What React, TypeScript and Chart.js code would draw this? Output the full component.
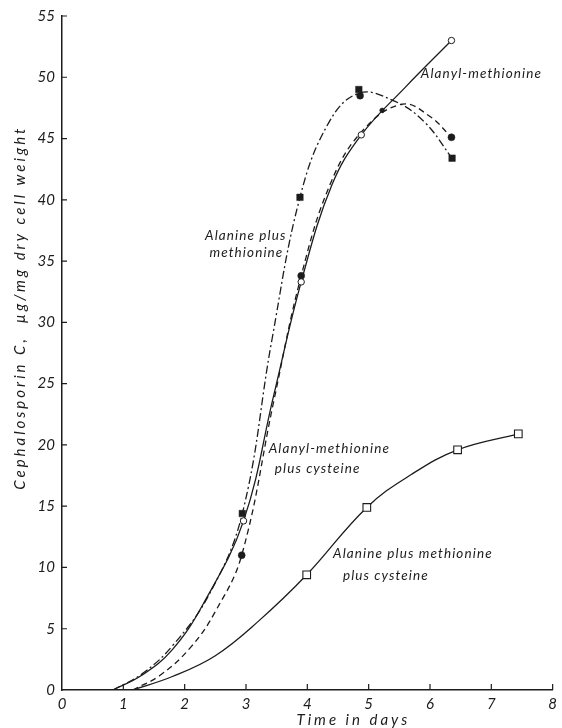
import React, { useEffect, useRef } from "react";
import { Chart, registerables } from "chart.js";

Chart.register(...registerables);

// ---- measured points (days, µg/mg dry cell weight) ----
const alanylMetDays = [2.96, 3.9, 4.88, 6.35];
const alanylMetValues = [13.8, 33.3, 45.3, 53.0];

const alaPlusMetDays = [2.94, 3.88, 4.84, 6.36];
const alaPlusMetValues = [14.4, 40.2, 49.0, 43.4];

const alanylMetCysDays = [2.93, 3.9, 4.86, 5.22, 6.35];
const alanylMetCysValues = [11.0, 33.8, 48.5, 47.3, 45.1];

const alaMetCysDays = [3.99, 4.97, 6.45, 7.44];
const alaMetCysValues = [9.4, 14.9, 19.6, 20.9];

// ---- hand-drawn fitted curves ----
const alanylMetCurveDays = [0.83, 1.3, 1.8, 2.3, 2.96, 3.45, 3.9, 4.4, 4.88, 5.6, 6.35];
const alanylMetCurveValues = [0, 1.2, 3.3, 7.0, 13.8, 24.0, 33.3, 41.2, 45.3, 49.2, 53.0];

const alaPlusMetCurveDays = [0.83, 1.3, 1.8, 2.4, 2.94, 3.42, 3.88, 4.35, 4.84, 5.4, 5.9, 6.36];
const alaPlusMetCurveValues = [0, 1.3, 3.6, 7.8, 14.4, 28.5, 40.2, 46.3, 48.7, 48.1, 46.4, 43.4];

const alanylMetCysCurveDays = [1.15, 1.6, 2.1, 2.5, 2.93, 3.45, 3.9, 4.4, 4.93, 5.55, 6.0, 6.35];
const alanylMetCysCurveValues = [0, 1.2, 3.5, 6.4, 11.0, 23.5, 33.8, 41.6, 45.8, 47.8, 46.8, 45.1];

const alaMetCysCurveDays = [1.15, 1.8, 2.5, 3.2, 3.99, 4.97, 5.7, 6.45, 7.44];
const alaMetCysCurveValues = [0, 1.1, 2.8, 5.6, 9.4, 14.9, 17.6, 19.6, 20.9];

// ---- axes ----
const xTickValues = [0, 1, 2, 3, 4, 5, 6, 7, 8];
const yTickValues = [0, 5, 10, 15, 20, 25, 30, 35, 40, 45, 50, 55];
const xTitle = "Time in days";
const yTitle = "Cephalosporin C,  \u00b5g/mg dry cell weight";

// ---- curve labels (text lines) ----
const labelLines = [
  "Alanyl-methionine",
  "Alanine plus",
  "methionine",
  "Alanyl-methionine",
  "plus cysteine",
  "Alanine plus methionine",
  "plus cysteine",
];

const pts = (xs: number[], ys: number[]) => xs.map((x, i) => ({ x, y: ys[i] }));

export default function App() {
  const ref = useRef<HTMLCanvasElement>(null);

  useEffect(() => {
    if (!ref.current) return;
    const ink = "#1c1c1c";
    const fontFamily = "Lato, 'DejaVu Sans', sans-serif";

    // anchors for label lines in data coordinates
    const labelAnchors = [
      { x: 5.85, y: 50.3, align: "left" },
      { x: 3.66, y: 37.1, align: "right" },
      { x: 3.61, y: 35.7, align: "right" },
      { x: 3.37, y: 19.7, align: "left" },
      { x: 3.47, y: 18.1, align: "left" },
      { x: 4.42, y: 11.1, align: "left" },
      { x: 4.58, y: 9.37, align: "left" },
    ];

    const decor = {
      id: "decor",
      afterDraw(chart: any) {
        const ctx = chart.ctx as CanvasRenderingContext2D;
        const xs = chart.scales.x;
        const ys = chart.scales.y;
        const area = chart.chartArea;
        ctx.save();
        // inward ticks
        ctx.strokeStyle = ink;
        ctx.lineWidth = 1.2;
        ctx.beginPath();
        xTickValues.forEach((v) => {
          if (v === 0) return;
          const px = xs.getPixelForValue(v);
          ctx.moveTo(px, area.bottom);
          ctx.lineTo(px, area.bottom - 6);
        });
        yTickValues.forEach((v) => {
          if (v === 0) return;
          const py = ys.getPixelForValue(v);
          ctx.moveTo(area.left, py);
          ctx.lineTo(area.left + 5, py);
        });
        ctx.stroke();

        // curve labels
        ctx.fillStyle = ink;
        ctx.textBaseline = "middle";
        ctx.font = `italic 13.5px ${fontFamily}`;
        (ctx as any).letterSpacing = "1.1px";
        labelLines.forEach((t, i) => {
          const a = labelAnchors[i];
          ctx.textAlign = a.align as CanvasTextAlign;
          ctx.fillText(t, xs.getPixelForValue(a.x), ys.getPixelForValue(a.y));
        });

        // axis titles
        ctx.font = `italic 15px ${fontFamily}`;
        (ctx as any).letterSpacing = "3px";
        ctx.textAlign = "center";
        ctx.fillText(xTitle, xs.getPixelForValue(4.75), 720);

        ctx.translate(20, ys.getPixelForValue(31.2));
        ctx.rotate(-Math.PI / 2);
        (ctx as any).letterSpacing = "3px";
        ctx.fillText(yTitle, 0, 0);
        ctx.restore();
      },
    };

    const curve = (xs: number[], ys: number[], dash: number[]) => ({
      data: pts(xs, ys),
      showLine: true,
      borderColor: ink,
      borderWidth: 1.3,
      borderDash: dash,
      pointRadius: 0,
      tension: 0.4,
      fill: false,
      order: 2,
    });

    const chart = new Chart(ref.current, {
      type: "scatter",
      data: {
        datasets: [
          {
            data: pts(alanylMetDays, alanylMetValues),
            pointStyle: "circle",
            pointRadius: 3.2,
            backgroundColor: "#ffffff",
            borderColor: ink,
            borderWidth: 1,
            showLine: false,
            order: 0,
          },
          {
            data: pts(alaPlusMetDays, alaPlusMetValues),
            pointStyle: "rect",
            pointRadius: 4.6,
            backgroundColor: ink,
            borderColor: ink,
            borderWidth: 0.5,
            showLine: false,
            order: 0,
          },
          {
            data: pts(alanylMetCysDays, alanylMetCysValues),
            pointStyle: "circle",
            pointRadius: [3.5, 3.5, 3.5, 2.4, 3.5],
            backgroundColor: ink,
            borderColor: ink,
            borderWidth: 0.5,
            showLine: false,
            order: 0,
          },
          {
            data: pts(alaMetCysDays, alaMetCysValues),
            pointStyle: "rect",
            pointRadius: 5.4,
            backgroundColor: "#ffffff",
            borderColor: ink,
            borderWidth: 1.1,
            showLine: false,
            order: 0,
          },
          curve(alanylMetCurveDays, alanylMetCurveValues, []),
          curve(alaPlusMetCurveDays, alaPlusMetCurveValues, [8, 3, 2, 3]),
          curve(alanylMetCysCurveDays, alanylMetCysCurveValues, [6, 4]),
          curve(alaMetCysCurveDays, alaMetCysCurveValues, []),
        ],
      },
      options: {
        animation: false,
        responsive: true,
        maintainAspectRatio: false,
        layout: { padding: { top: 15, right: 6, left: 0, bottom: 0 } },
        plugins: {
          legend: { display: false },
          tooltip: { enabled: false },
          title: { display: false },
        },
        scales: {
          x: {
            type: "linear",
            min: 0,
            max: 8,
            afterFit: (s: any) => {
              s.height = 38;
            },
            afterBuildTicks: (s: any) => {
              s.ticks = xTickValues.map((v) => ({ value: v }));
            },
            ticks: {
              color: ink,
              padding: 5,
              font: { family: fontFamily, size: 15, style: "italic" },
              callback: (v: any) => String(v),
            },
            grid: { display: true, drawOnChartArea: false, drawTicks: false },
            border: { display: true, color: ink, width: 1.5 },
          },
          y: {
            type: "linear",
            min: 0,
            max: 55,
            afterFit: (s: any) => {
              s.width = 62;
            },
            afterBuildTicks: (s: any) => {
              s.ticks = yTickValues.map((v) => ({ value: v }));
            },
            ticks: {
              color: ink,
              padding: 7,
              font: { family: fontFamily, size: 15, style: "italic" },
              callback: (v: any) => String(v),
            },
            grid: { display: true, drawOnChartArea: false, drawTicks: false },
            border: { display: true, color: ink, width: 1.5 },
          },
        },
      },
      plugins: [decor],
    } as any);

    return () => chart.destroy();
  }, []);

  return (
    <div
      style={{
        position: "absolute",
        left: 0,
        top: 0,
        width: 562,
        height: 728,
        background: "#ffffff",
      }}
    >
      <canvas ref={ref} />
    </div>
  );
}
